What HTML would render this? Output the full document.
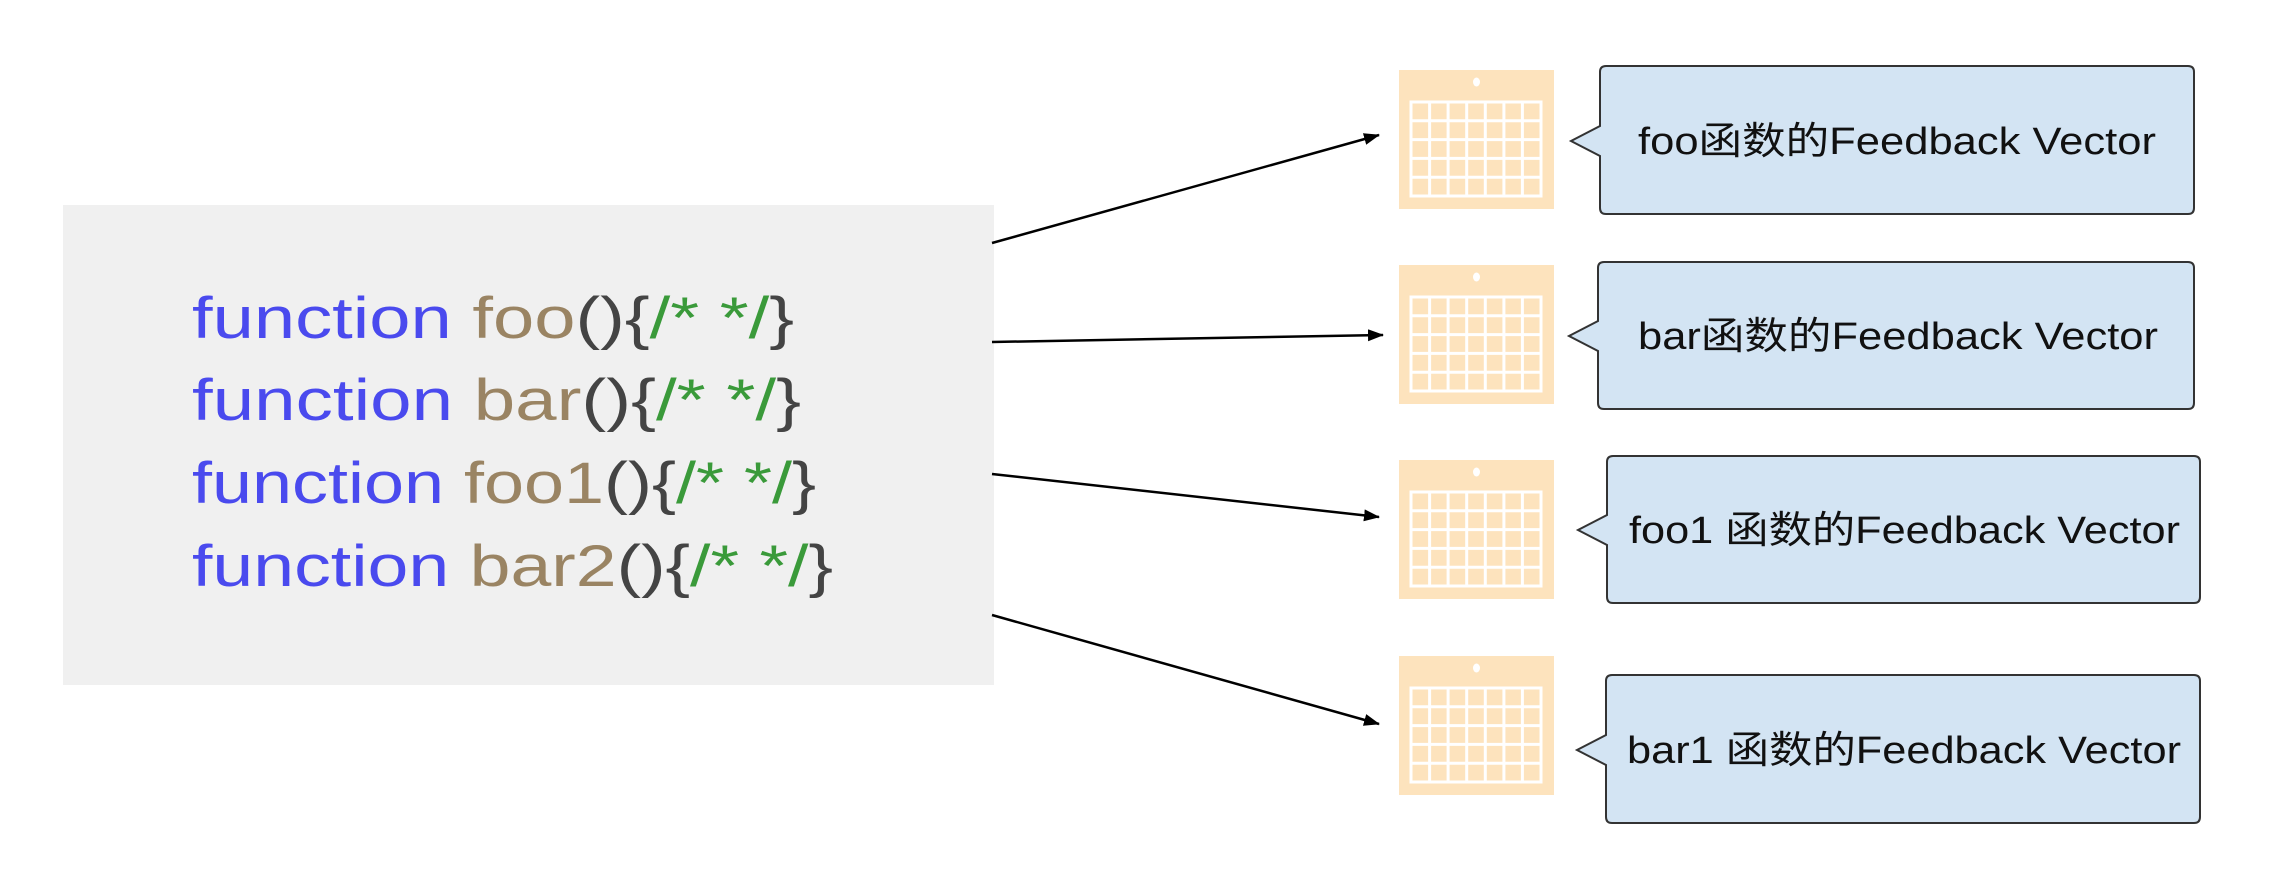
<!DOCTYPE html>
<html><head><meta charset="utf-8"><style>
html,body{margin:0;padding:0;background:#fff;}
svg{display:block;}
</style></head><body>
<svg width="2284" height="890" viewBox="0 0 2284 890" xmlns="http://www.w3.org/2000/svg">
<defs>
<marker id="ah" markerWidth="16" markerHeight="12" refX="15" refY="6" orient="auto" markerUnits="userSpaceOnUse">
<path d="M0,0 L16,6 L0,12 Z" fill="#000"/>
</marker>
<g id="cal">
<rect x="0" y="0" width="155" height="139" fill="#fde3bd"/>
<ellipse cx="77.5" cy="12" rx="3.5" ry="4.5" fill="#fff"/>
<g stroke="#fff" stroke-width="3" fill="none">
<rect x="12" y="32" width="130" height="94"/>
<line x1="30.6" y1="32" x2="30.6" y2="126"/><line x1="49.1" y1="32" x2="49.1" y2="126"/>
<line x1="67.7" y1="32" x2="67.7" y2="126"/><line x1="86.3" y1="32" x2="86.3" y2="126"/>
<line x1="104.9" y1="32" x2="104.9" y2="126"/><line x1="123.4" y1="32" x2="123.4" y2="126"/>
<line x1="12" y1="50.8" x2="142" y2="50.8"/><line x1="12" y1="69.6" x2="142" y2="69.6"/>
<line x1="12" y1="88.4" x2="142" y2="88.4"/><line x1="12" y1="107.2" x2="142" y2="107.2"/>
</g>
</g>
</defs>

<rect x="63" y="205" width="931" height="480" fill="#f0f0f0"/>

<g font-family="'Liberation Sans', sans-serif" font-size="58">
<text x="192" y="338" textLength="602" lengthAdjust="spacingAndGlyphs"><tspan fill="#4a4aee">function </tspan><tspan fill="#9a8463">foo</tspan><tspan fill="#444">(){</tspan><tspan fill="#3a9a3a">/* */</tspan><tspan fill="#444">}</tspan></text>
<text x="192" y="420" textLength="609" lengthAdjust="spacingAndGlyphs"><tspan fill="#4a4aee">function </tspan><tspan fill="#9a8463">bar</tspan><tspan fill="#444">(){</tspan><tspan fill="#3a9a3a">/* */</tspan><tspan fill="#444">}</tspan></text>
<text x="192" y="503" textLength="624" lengthAdjust="spacingAndGlyphs"><tspan fill="#4a4aee">function </tspan><tspan fill="#9a8463">foo1</tspan><tspan fill="#444">(){</tspan><tspan fill="#3a9a3a">/* */</tspan><tspan fill="#444">}</tspan></text>
<text x="192" y="586" textLength="641" lengthAdjust="spacingAndGlyphs"><tspan fill="#4a4aee">function </tspan><tspan fill="#9a8463">bar2</tspan><tspan fill="#444">(){</tspan><tspan fill="#3a9a3a">/* */</tspan><tspan fill="#444">}</tspan></text>
</g>

<g stroke="#000" stroke-width="2.5" fill="none" marker-end="url(#ah)">
<line x1="992" y1="243" x2="1379" y2="135"/>
<line x1="992" y1="342" x2="1383" y2="335"/>
<line x1="992" y1="474" x2="1379" y2="517"/>
<line x1="992" y1="615" x2="1379" y2="724"/>
</g>

<use href="#cal" x="1399" y="70"/>
<use href="#cal" x="1399" y="265"/>
<use href="#cal" x="1399" y="460"/>
<use href="#cal" x="1399" y="656"/>

<g fill="#d3e4f3" stroke="#333" stroke-width="2">
<path d="M1606,66 H2188 Q2194,66 2194,72 V208 Q2194,214 2188,214 H1606 Q1600,214 1600,208 V156 L1571,141 L1600,126 V72 Q1600,66 1606,66 Z"/>
<path d="M1604,262 H2188 Q2194,262 2194,268 V403 Q2194,409 2188,409 H1604 Q1598,409 1598,403 V351 L1569,336 L1598,321 V268 Q1598,262 1604,262 Z"/>
<path d="M1613,456 H2194 Q2200,456 2200,462 V597 Q2200,603 2194,603 H1613 Q1607,603 1607,597 V545 L1578,530 L1607,515 V462 Q1607,456 1613,456 Z"/>
<path d="M1612,675 H2194 Q2200,675 2200,681 V817 Q2200,823 2194,823 H1612 Q1606,823 1606,817 V765 L1577,750 L1606,735 V681 Q1606,675 1612,675 Z"/>
</g>
<g font-family="'Liberation Sans', 'Noto Sans CJK SC', sans-serif" font-size="38" fill="#111">
<text x="1638" y="154" textLength="518" lengthAdjust="spacingAndGlyphs">foo函数的Feedback Vector</text>
<text x="1638" y="349" textLength="520" lengthAdjust="spacingAndGlyphs">bar函数的Feedback Vector</text>
<text x="1629" y="543" textLength="551" lengthAdjust="spacingAndGlyphs">foo1 函数的Feedback Vector</text>
<text x="1627" y="763" textLength="554" lengthAdjust="spacingAndGlyphs">bar1 函数的Feedback Vector</text>
</g>
</svg>
</body></html>
